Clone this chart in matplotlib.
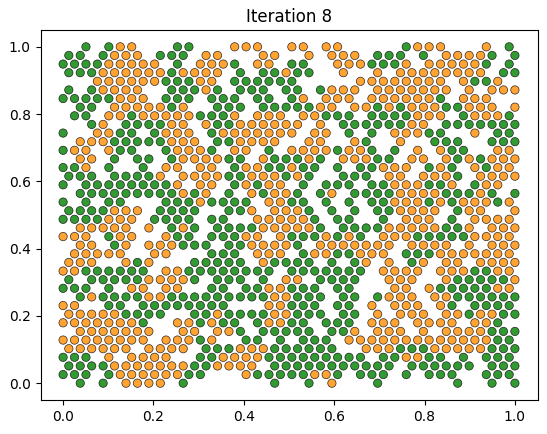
import numpy as np
import matplotlib
matplotlib.use("Agg")
import matplotlib.pyplot as plt

# Colour map of agents: one character per grid cell,
# rows from top (y = 1.0) to bottom (y = 0.0), 40 columns from x = 0 to 1.
# 'o' = orange agent, 'g' = green agent, '.' = empty
agent_rows = [
    "..g.g" "oo..." "gg..." "ooo.." "oo.oo" "....." "gooo." "..o.g",
    "gg.go" "oo.gg" "g.oo." "..oo." ".o.oo" "o.ggg" ".g.oo" "oog.g",
    "ggggo" "oooo." "g.ooo" "g.oo." "gg..o" "ooggg" "o.ooo" "oog.g",
    "gggoo" "oooog" "oooo." "g.ggo" "gg..o" "..o.o" "ooooo" "oo.gg",
    "...oo" "oooog" "ggoo." "ggggg" "g...." ".oooo" "oooo." "oggo.",
    "g.goo" "oo..g" "ggog." "ggg.g" "g.goo" "o.ooo" "oooo." "o.ooo",
    "ggggg" "ooo.g" "gg.gg" "g.gg." "go.oo" "o.ooo" "ooog." "ooo..",
    ".gg.o" "oooog" "o..gg" "g.ggg" "ggoo." "oogog" "ooogg" "ooo.o",
    ".gg.o" "ogooo" "ooggg" "o.ooo" ".oogg" "g.ggg" "gooo." "gooog",
    "..go." "ggggo" "o.ogg" "ooooo" "o.o.g" "ggggg" "oo.gg" "ggggg",
    "g..oo" "gg.go" "oo.go" "ooooo" "o.oo." "g.g.o" "oogg." ".o.gg",
    ".ooog" "ggggo" "oo.gg" "oooo." ".oo.." "og..o" "..ggg" "..ggg",
    "goo.o" "gg..g" "ooog." "oo.g." "oooog" "oog.g" ".o.og" "g..oo",
    ".oo.g" ".gg.g" "oooog" "g.ogg" "gog.o" "oogg." "oo.og" "ogooo",
    "ggo.g" "..g.o" "o.oo." "googg" "ogg.g" ".ggoo" "o.gog" ".ogoo",
    "ggg.g" "gggo." "oooog" "gooog" "og..g" "gg.oo" ".ooog" ".oooo",
    "g.ggg" "ggggg" "o.oo." "gogoo" ".g.gg" "g.ggo" "ooggo" ".goo.",
    ".gggg" "ggggg" "ogo.g" ".ogoo" "g.go." "ggggo" "ooogg" "gog.g",
    "g.g.g" "g...g" "ggogg" "gg.oo" "gg.g." "g.ggo" "oogog" "ooogo",
    "ggggo" "oo.gg" "gg..g" "go.oo" "og.g." "g.ggo" "ooo.g" "oo..o",
    "ggggo" "oo.gg" "gg.gg" "..ooo" "oog.g" "g..g." "ooo.g" ".oooo",
    ".oooo" "o.o.g" "og.gg" "ggooo" "oog.g" "gggoo" "ooogg" "o.ooo",
    "ooo.g" "oo..o" "gg.gg" "goo.o" "gggog" "og.oo" "ogggg" "goooo",
    ".oo.g" "o.ooo" "ggg.g" "goooo" "g.ooo" "oooo." "oooo." "o.ooo",
    ".oooo" "o..oo" "...gg" "g.ooo" ".goog" "gooo." "gggoo" "ooooo",
    "ooo.." "ogo.." ".gggg" "g.ogg" "gg.g." "go.o." "go.oo" ".oooo",
    "ooggg" "ggg.o" "ogggg" "gggg." "ggggg" "gg.oo" "oo.oo" "oggoo",
    "g.ggg" "ggooo" "og.gg" "g.g.o" "o.ggg" "g..oo" "o..og" "ggggo",
    "ggg.g" ".oo.o" "o..gg" ".ggoo" "ggg.g" "g...o" "o.ogg" "gggoo",
    ".gogg" "ggoog" "ggggg" "gggoo" "ggg.g" "g.goo" "o.oog" "ggggg",
    "oo..g" "g.ggg" "ggggg" "...oo" "ggg.g" "g.o.o" "oo.og" ".gggg",
    "ooooo" "gggg." ".ggog" "gggoo" "ggg.g" "g.o.o" "oo.oo" "googg",
    "ooooo" "oog.." "oogog" "g.goo" "gg.gg" "g.ooo" ".oooo" ".oog.",
    ".oooo" "ooo.." "oo.oo" "g.ggg" "gg.gg" "o.ooo" ".o.oo" "ooggg",
    "ooooo" "ooo.o" "oogo." ".gg.g" ".ggg." "ooooo" "ooooo" "ooogg",
    "ooooo" "o.ooo" "o.ggg" "ooogg" "gggg." ".ooog" "ggooo" "ooggg",
    "ggg.o" ".oooo" "..ggo" "ooogg" "ggggg" "gg.gg" "oogg." "g.ggg",
    "ggggo" "ooooo" "oggoo" "oo.gg" "ggggg" "gggg." "ggggg" "g.ggg",
    "ggg.g" "ooooo" "ogg.." ".oggg" "ggoog" ".ggg." "g.ggg" "..ggg",
    ".g.g." "oooo." "g...." "...g." ".g.o." "..g.." "....g" "..g.g",
]

agent_colors = {"o": "darkorange", "g": "green"}
title_text = "Iteration 8"
tick_values = [0.0, 0.2, 0.4, 0.6, 0.8, 1.0]

n_rows = len(agent_rows)
n_cols = max(len(r) for r in agent_rows)
row_pos = np.linspace(1.0, 0.0, n_rows)
step = 1.0 / (n_cols - 0.5)

xs, ys, cs = [], [], []
for i, row in enumerate(agent_rows):
    shift = 0.5 * step if i % 2 else 0.0
    for j, ch in enumerate(row):
        if ch in agent_colors:
            xs.append(j * step + shift)
            ys.append(row_pos[i])
            cs.append(agent_colors[ch])

fig = plt.figure(figsize=(5.47, 4.34), dpi=100)
ax = fig.add_axes([40.5 / 547, 34 / 434, 497 / 547, 370 / 434])
ax.scatter(xs, ys, c=cs, s=36, alpha=0.8, edgecolors="black", linewidths=0.5)
ax.set_title(title_text)
ax.set_xticks(tick_values)
ax.set_yticks(tick_values)
fig.savefig("out.png", dpi=100)
